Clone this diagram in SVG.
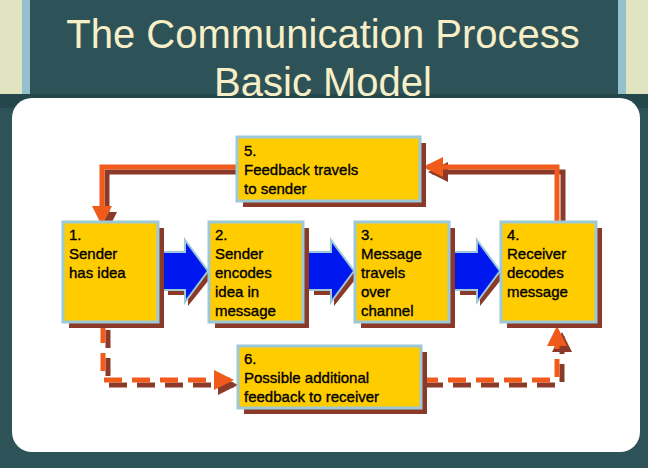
<svg xmlns="http://www.w3.org/2000/svg" width="648" height="468" viewBox="0 0 648 468">
<defs>
<style>
.t{font-family:"Liberation Sans",Arial,sans-serif;font-size:15px;fill:#000;stroke:#000;stroke-width:0.35}
.ti{font-family:"Liberation Sans",Arial,sans-serif;font-size:40px;fill:#f8efc8;text-anchor:middle}
.box{fill:#ffcc00;stroke:#9cc8d8;stroke-width:3}
.sh{fill:#8b3a2a}
.ln{fill:none;stroke:#f05a1a;stroke-width:5}
.lns{fill:none;stroke:#8b3a2a;stroke-width:5}
.d{stroke-dasharray:18 10}
</style>
<marker id="ah" viewBox="0 0 10 10" refX="8" refY="5" markerWidth="4" markerHeight="4" orient="auto"><path d="M0,0L10,5L0,10z" fill="#f05a1a"/></marker>
<marker id="ahs" viewBox="0 0 10 10" refX="8" refY="5" markerWidth="4" markerHeight="4" orient="auto"><path d="M0,0L10,5L0,10z" fill="#8b3a2a"/></marker>
</defs>
<rect width="648" height="468" fill="#2d5358"/>
<rect x="0" y="0" width="22" height="96" fill="#e0e4c0"/>
<rect x="22" y="0" width="8" height="96" fill="#93c0cc"/>
<rect x="626" y="0" width="22" height="96" fill="#e0e4c0"/>
<rect x="618" y="0" width="8" height="96" fill="#93c0cc"/>
<rect x="0" y="94" width="648" height="14" fill="#24474c"/>
<rect x="12" y="98" width="628" height="354" rx="20" fill="#fff"/>
<text class="ti" x="323" y="48">The Communication Process</text>
<text class="ti" x="323" y="96">Basic Model</text>

<g id="connectors">
<path class="lns" d="M563,325V172H432" marker-end="url(#ahs)"/>
<path class="ln" d="M557,222V167H427" marker-end="url(#ah)"/>
<path class="lns" d="M242,172H107V228" marker-end="url(#ahs)"/>
<path class="ln" d="M237,167H102V222" marker-end="url(#ah)"/>
<path class="lns d" d="M108,330V385H234" marker-end="url(#ahs)"/>
<path class="ln d" d="M103,325V380H230" marker-end="url(#ah)"/>
<path class="lns d" d="M425,385H562V336" marker-end="url(#ahs)"/>
<path class="ln d" d="M420,380H557V330" marker-end="url(#ah)"/>
<g id="blue1"><path d="M168,257H188V246L212,276L188,306V295H168z" class="sh"/><path d="M162,252H185V240L208,271L185,302V290H162z" fill="#0018f0" stroke="#9cc8d8" stroke-width="2"/></g>
<g id="blue2"><path d="M314,257H334V246L358,276L334,306V295H314z" class="sh"/><path d="M308,252H331V240L354,271L331,302V290H308z" fill="#0018f0" stroke="#9cc8d8" stroke-width="2"/></g>
<g id="blue3"><path d="M460,257H480V246L504,276L480,306V295H460z" class="sh"/><path d="M454,252H477V240L500,271L477,302V290H454z" fill="#0018f0" stroke="#9cc8d8" stroke-width="2"/></g>
</g>

<g id="n5"><rect class="sh" x="243" y="143" width="183" height="64"/><rect class="box" x="237" y="137" width="183" height="64"/>
<text class="t" x="244" y="156">5.</text><text class="t" x="244" y="175">Feedback travels</text><text class="t" x="244" y="194">to sender</text></g>
<g id="n1"><rect class="sh" x="69" y="228" width="95" height="100"/><rect class="box" x="63" y="222" width="95" height="100"/>
<text class="t" x="69" y="240">1.</text><text class="t" x="69" y="259">Sender</text><text class="t" x="69" y="278">has idea</text></g>
<g id="n2"><rect class="sh" x="215" y="228" width="94" height="100"/><rect class="box" x="209" y="222" width="94" height="100"/>
<text class="t" x="215" y="240">2.</text><text class="t" x="215" y="259">Sender</text><text class="t" x="215" y="278">encodes</text><text class="t" x="215" y="297">idea in</text><text class="t" x="215" y="316">message</text></g>
<g id="n3"><rect class="sh" x="361" y="228" width="94" height="100"/><rect class="box" x="355" y="222" width="94" height="100"/>
<text class="t" x="361" y="240">3.</text><text class="t" x="361" y="259">Message</text><text class="t" x="361" y="278">travels</text><text class="t" x="361" y="297">over</text><text class="t" x="361" y="316">channel</text></g>
<g id="n4"><rect class="sh" x="507" y="228" width="95" height="100"/><rect class="box" x="501" y="222" width="95" height="100"/>
<text class="t" x="507" y="240">4.</text><text class="t" x="507" y="259">Receiver</text><text class="t" x="507" y="278">decodes</text><text class="t" x="507" y="297">message</text></g>
<g id="n6"><rect class="sh" x="244" y="352" width="183" height="62"/><rect class="box" x="238" y="346" width="183" height="62"/>
<text class="t" x="244" y="364">6.</text><text class="t" x="244" y="383">Possible additional</text><text class="t" x="244" y="402">feedback to receiver</text></g>
</svg>
